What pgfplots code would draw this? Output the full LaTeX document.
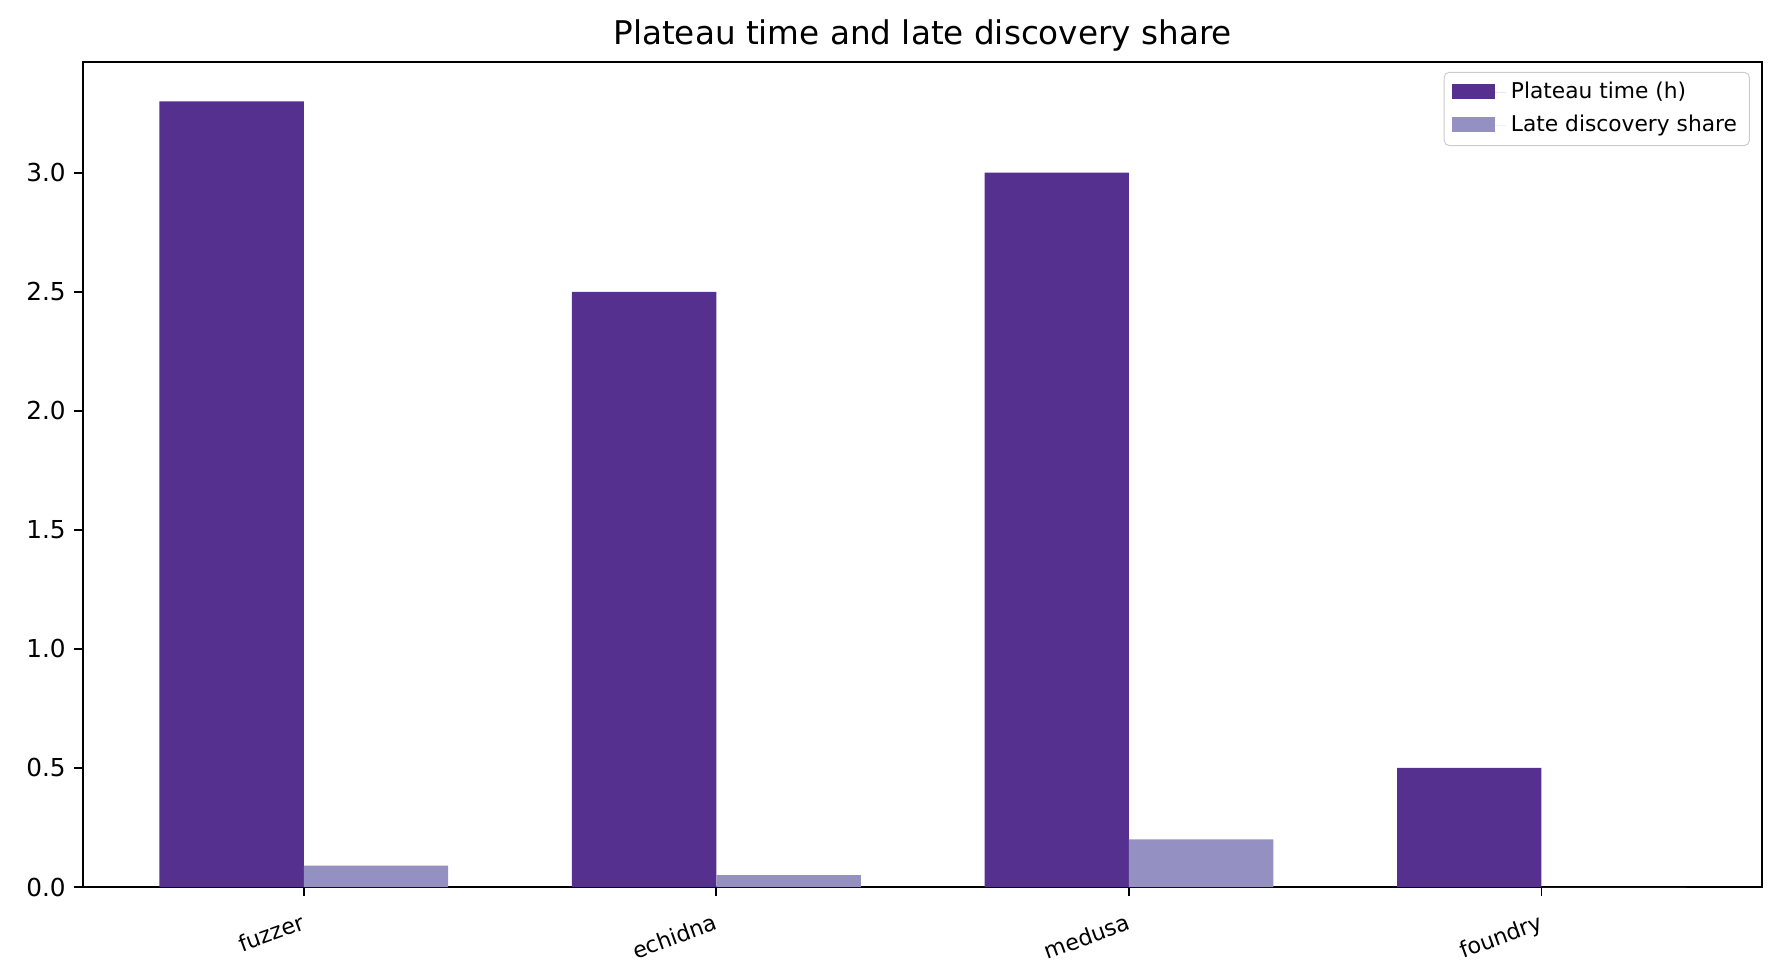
\documentclass[border=0pt]{standalone}
\usepackage{pgfplots}
\pgfplotsset{compat=1.18}
\usepackage{fontspec}
\setmainfont{DejaVu Sans}
\definecolor{cPlat}{HTML}{56308F}
\definecolor{cLate}{HTML}{9491C2}
\begin{document}
\begin{tikzpicture}
\useasboundingbox (-33.6pt,-36.4pt) rectangle (686.4pt,358.8pt);
\begin{axis}[
  at={(0,0)}, anchor=south west,
  scale only axis, width=679.2pt, height=333.7pt,
  xmin=-0.535, xmax=3.535, ymin=0, ymax=3.465,
  axis line style={line width=0.8pt},
  tick style={line width=0.8pt, black},
  major tick length=3.5pt,
  tick align=outside,
  xtick={0,1,2,3},
  xticklabels={fuzzer,echidna,medusa,foundry},
  xticklabel style={rotate=20, anchor=north east, font=\fontsize{9}{11}\selectfont, inner sep=1pt, yshift=-5pt, xshift=-2.5pt},
  ytick={0,0.5,1,1.5,2,2.5,3},
  yticklabel style={/pgf/number format/fixed, /pgf/number format/fixed zerofill, /pgf/number format/precision=1, font=\fontsize{10}{12}\selectfont},
  /pgf/number format/assume math mode=true,
  ytick pos=left, xtick pos=bottom,
  title={Plateau time and late discovery share},
  title style={font=\fontsize{13.2}{15}\selectfont, at={(0.5,1)}, anchor=base, yshift=1pt},
  legend style={at={(1,1)}, anchor=north east, xshift=-5pt, yshift=-4pt, draw=black!20, rounded corners=2pt, font=\fontsize{8.8}{10}\selectfont, row sep=1.2pt, inner xsep=3pt, inner ysep=2pt},
  legend cell align=left,
  legend image code/.code={\fill[#1, sharp corners] (0pt,-2.6pt) rectangle (17.5pt,3.4pt); \path (0pt,0pt) -- (22pt,0pt);},
]
\addplot[ybar, bar width=0.35, bar shift=-0.175, fill=cPlat, draw=none] coordinates {(0,3.3) (1,2.5) (2,3.0) (3,0.5)};
\addlegendentry{Plateau time (h)}
\addplot[ybar, bar width=0.35, bar shift=0.175, fill=cLate, draw=none] coordinates {(0,0.09) (1,0.05) (2,0.2) (3,0)};
\addlegendentry{Late discovery share}
\end{axis}
\end{tikzpicture}
\end{document}
